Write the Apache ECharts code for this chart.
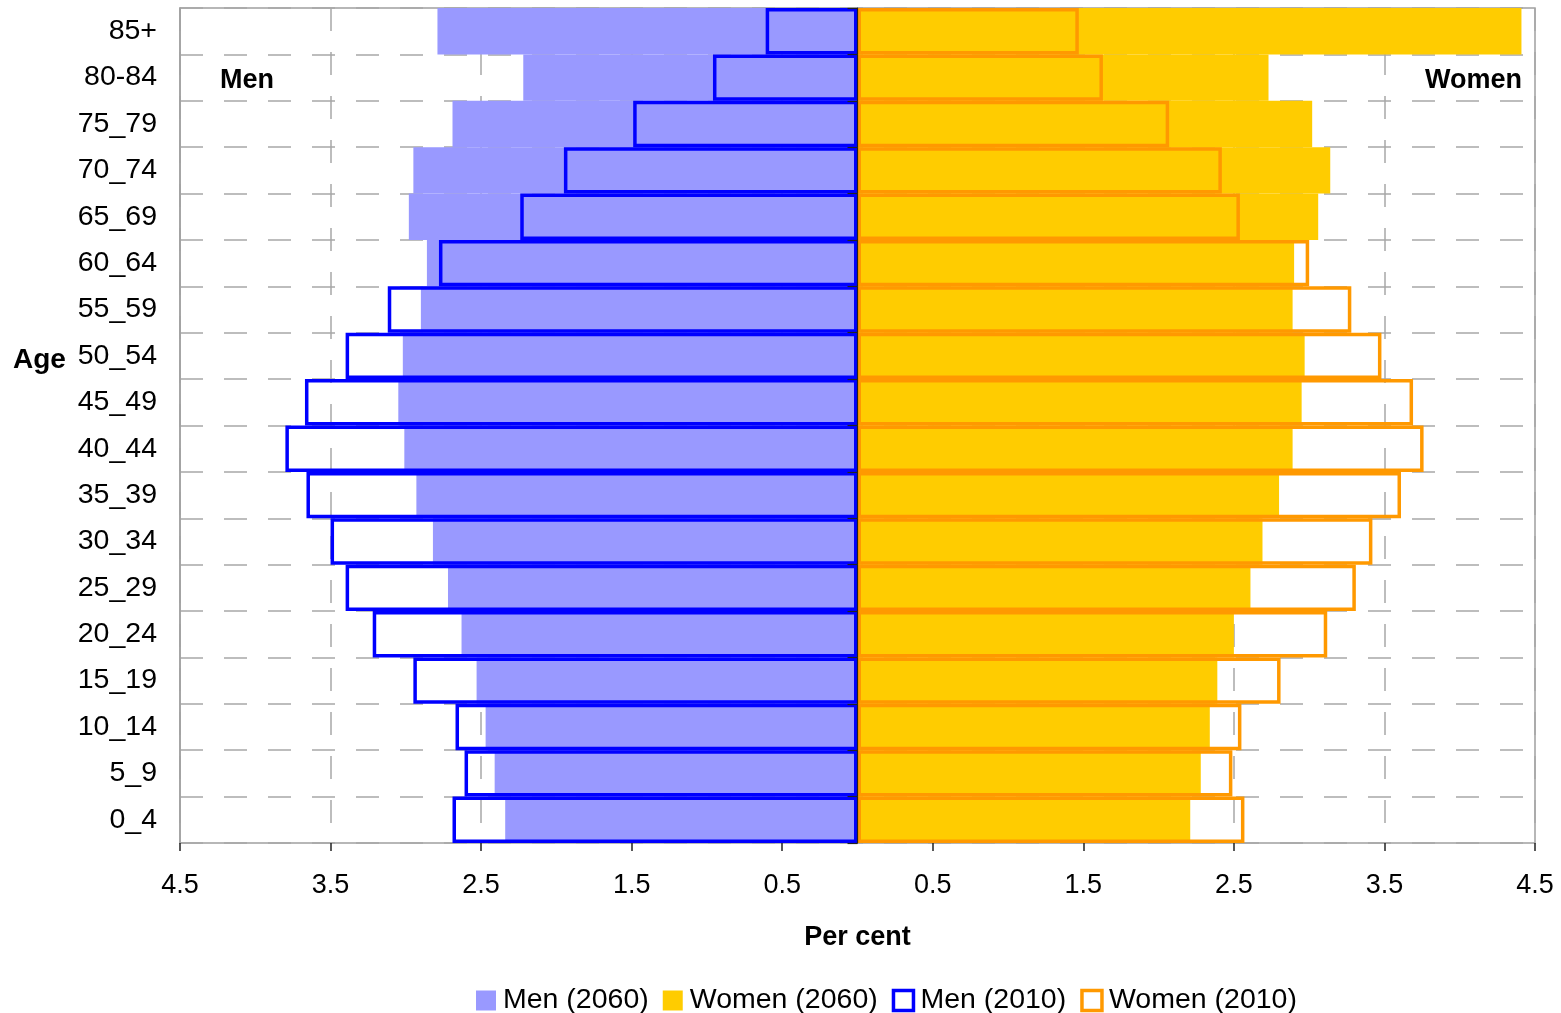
<!DOCTYPE html>
<html>
<head>
<meta charset="utf-8">
<script src="https://cdn.jsdelivr.net/npm/echarts@6/dist/echarts.min.js"></script>
<style>
html,body{margin:0;padding:0;background:#fff;}
#chart{width:1561px;height:1013px;}
</style>
</head>
<body>
<div id="chart"></div>
<script>
const ageGroups = ['0_4','5_9','10_14','15_19','20_24','25_29','30_34','35_39','40_44','45_49','50_54','55_59','60_64','65_69','70_74','75_79','80-84','85+'];
const men2060   = [2.34,2.41,2.47,2.53,2.63,2.72,2.82,2.93,3.01,3.05,3.02,2.90,2.86,2.98,2.95,2.69,2.22,2.79];
const women2060 = [2.21,2.28,2.34,2.39,2.50,2.61,2.69,2.80,2.89,2.95,2.97,2.89,2.90,3.06,3.14,3.02,2.73,4.41];
const men2010   = [2.69,2.61,2.67,2.95,3.22,3.40,3.50,3.66,3.80,3.67,3.40,3.12,2.78,2.24,1.95,1.49,0.96,0.61];
const women2010 = [2.57,2.49,2.55,2.81,3.12,3.31,3.42,3.61,3.76,3.69,3.48,3.28,3.00,2.54,2.42,2.07,1.63,1.47];
const xTicks = [-4.5,-3.5,-2.5,-1.5,-0.5,0.5,1.5,2.5,3.5,4.5];

const FONT = 'Liberation Sans, Arial, sans-serif';
const chart = echarts.init(document.getElementById('chart'));
const neg = a => a.map(v => -v);

const option = {
  animation: false,
  textStyle: { fontFamily: FONT },
  grid: { left: 180, right: 26, top: 8, bottom: 170, show: true, borderColor: '#a0a0a0', borderWidth: 1.5, containLabel: false },
  legend: {
    top: 981, left: 471,
    itemWidth: 20, itemHeight: 20, itemGap: 14, icon: 'rect',
    textStyle: { fontFamily: FONT, fontSize: 28.5, color: '#000', padding: [0, 0, 0, 2] },
    data: [
      { name: 'Men (2060)' },
      { name: 'Women (2060)' },
      { name: 'Men (2010)', itemStyle: { color: '#fff', borderColor: '#0000FF', borderWidth: 3.5 } },
      { name: 'Women (2010)', itemStyle: { color: '#fff', borderColor: '#FF9900', borderWidth: 3.5 } }
    ]
  },
  xAxis: {
    type: 'value', min: -4.5, max: 4.5,
    name: 'Per cent', nameLocation: 'middle', nameGap: 81,
    nameTextStyle: { fontFamily: FONT, fontSize: 27, fontWeight: 'bold', color: '#000' },
    axisLine: { onZero: false, lineStyle: { color: '#222', width: 1.5 } },
    axisTick: { show: true, length: 8, customValues: xTicks, lineStyle: { color: '#222', width: 1.5 } },
    axisLabel: { customValues: xTicks, margin: 29, fontSize: 27, color: '#000', fontFamily: FONT,
      formatter: v => Math.abs(v).toFixed(1) },
    splitLine: { show: true, lineStyle: { color: '#a8a8a8', type: [23, 21], width: 1.5 } }
  },
  yAxis: [
    {
      type: 'category', data: ageGroups, position: 'left',
      axisLine: { show: true, onZero: false, lineStyle: { color: '#a0a0a0', width: 1.5 } },
      axisTick: { show: false },
      axisLabel: { margin: 23, fontSize: 28.5, color: '#000', fontFamily: FONT, padding: [8, 0, 0, 0] },
      splitLine: { show: true, lineStyle: { color: '#a8a8a8', type: [23, 21], width: 1.5 } }
    },
    {
      type: 'category', data: ageGroups, position: 'left', z: 10,
      axisLine: { show: true, onZero: true, lineStyle: { color: '#222', width: 1.2 } },
      axisTick: { show: true, length: 10, lineStyle: { color: '#222', width: 1.2 } },
      axisLabel: { show: false },
      splitLine: { show: false }
    }
  ],
  series: [
    { name: 'Men (2060)', type: 'bar', data: neg(men2060), barGap: '-100%', barCategoryGap: '0%',
      itemStyle: { color: '#9999FF' } },
    { name: 'Women (2060)', type: 'bar', data: women2060, barGap: '-100%', barCategoryGap: '0%',
      itemStyle: { color: '#FFCC00' } },
    { name: 'Men (2010)', type: 'bar', data: neg(men2010), barGap: '-100%', barCategoryGap: '0%',
      itemStyle: { color: 'rgba(0,0,0,0)', borderColor: '#0000FF', borderWidth: 3.5 } },
    { name: 'Women (2010)', type: 'bar', data: women2010, barGap: '-100%', barCategoryGap: '0%',
      itemStyle: { color: 'rgba(0,0,0,0)', borderColor: '#FF9900', borderWidth: 3.5 } }
  ],
  graphic: [
    { type: 'text', left: 220, top: 67, style: { text: 'Men', fontFamily: FONT, fontSize: 27, fontWeight: 'bold', fill: '#000' } },
    { type: 'text', right: 39, top: 67, style: { text: 'Women', fontFamily: FONT, fontSize: 27, fontWeight: 'bold', fill: '#000' } },
    { type: 'text', left: 13, top: 346, style: { text: 'Age', fontFamily: FONT, fontSize: 28, fontWeight: 'bold', fill: '#000' } }
  ]
};
chart.setOption(option);
</script>
</body>
</html>
